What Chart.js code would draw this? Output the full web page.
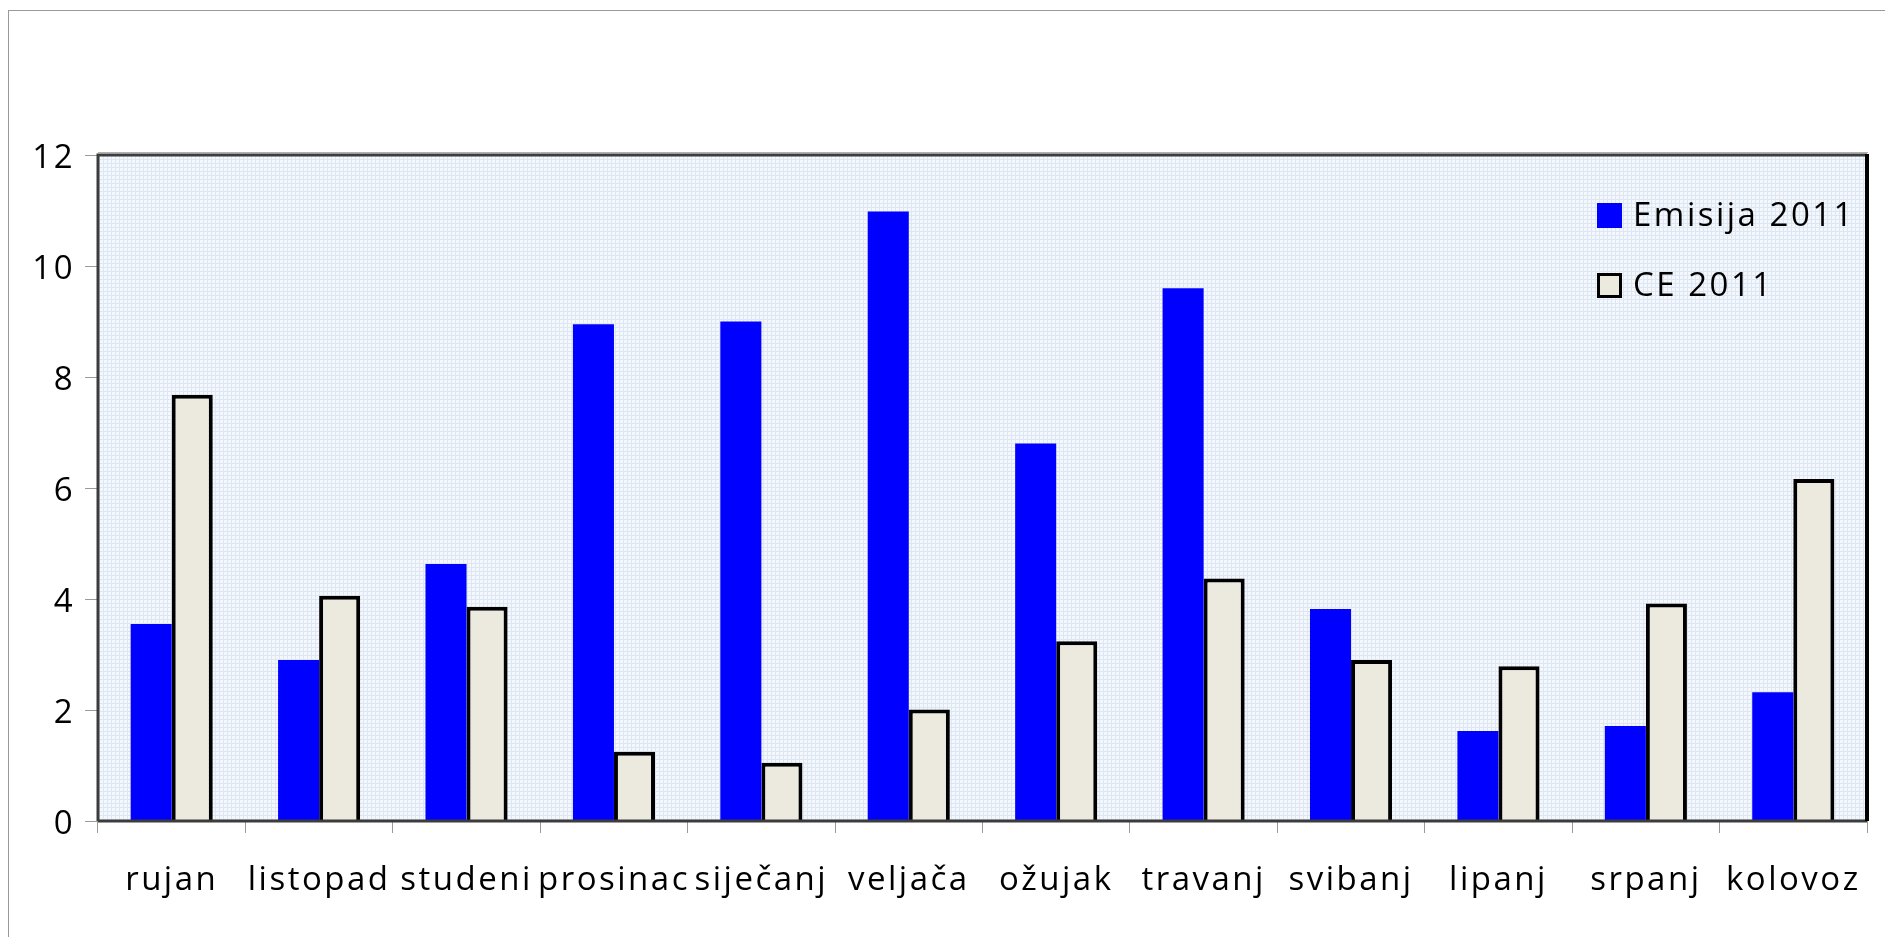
<!DOCTYPE html>
<html>
<head>
<meta charset="utf-8">
<script src="https://cdn.jsdelivr.net/npm/chart.js@4/dist/chart.umd.min.js"></script>
<style>
  html, body { margin: 0; padding: 0; background: #ffffff; overflow: hidden; }
  #frame { position: absolute; left: 8px; top: 10px; width: 3000px; height: 3000px; border-left: 1px solid #999; border-top: 1px solid #999; }
  #wrap { position: absolute; left: 0; top: 0; width: 1885px; height: 937px; }
</style>
</head>
<body>
<div id="frame"></div>
<div id="wrap"><canvas id="c" width="1885" height="937"></canvas></div>
<script>
const categories = ['rujan', 'listopad', 'studeni', 'prosinac', 'siječanj', 'veljača', 'ožujak', 'travanj', 'svibanj', 'lipanj', 'srpanj', 'kolovoz'];
const emisija2011 = [3.55, 2.9, 4.63, 8.95, 9.0, 10.98, 6.8, 9.6, 3.82, 1.62, 1.71, 2.32];
const ce2011 = [7.68, 4.06, 3.86, 1.25, 1.05, 2.01, 3.24, 4.37, 2.9, 2.79, 3.92, 6.16];
const seriesNames = ['Emisija 2011', 'CE 2011'];
const yTicks = { min: 0, max: 12, step: 2 };

const FONT = '"Open Sans", sans-serif';
const FSIZE = 33;
const LSP = '2.5px';

function makePattern(ctx) {
  const p = document.createElement('canvas');
  p.width = 4; p.height = 4;
  const g = p.getContext('2d');
  g.fillStyle = '#f4f7fc';
  g.fillRect(0, 0, 4, 4);
  g.fillStyle = '#dde6f3';
  g.fillRect(0, 3, 4, 1);
  g.fillRect(3, 0, 1, 4);
  return ctx.createPattern(p, 'repeat');
}

const framePlugin = {
  id: 'framePlugin',
  beforeDraw(chart) {
    chart.ctx.letterSpacing = LSP;
    const a = chart.chartArea, ctx = chart.ctx;
    ctx.save();
    ctx.fillStyle = makePattern(ctx);
    ctx.fillRect(a.left, a.top, a.right - a.left, a.bottom - a.top);
    ctx.restore();
  },
  afterDatasetsDraw(chart) {
    const a = chart.chartArea, ctx = chart.ctx;
    ctx.save();
    ctx.strokeStyle = '#b0b0b0';
    ctx.lineWidth = 1;
    ctx.beginPath();
    ctx.moveTo(a.left, a.top - 2.5); ctx.lineTo(a.right + 1, a.top - 2.5);
    ctx.stroke();
    ctx.strokeStyle = '#3c3c3c';
    ctx.lineWidth = 3;
    ctx.beginPath();
    ctx.moveTo(a.left, a.bottom); ctx.lineTo(a.left, a.top); ctx.lineTo(a.right, a.top);
    ctx.moveTo(a.left, a.bottom); ctx.lineTo(a.right, a.bottom);
    ctx.stroke();
    ctx.strokeStyle = '#000';
    ctx.lineWidth = 4;
    ctx.beginPath();
    ctx.moveTo(a.right, a.top - 1); ctx.lineTo(a.right, a.bottom);
    ctx.stroke();
    ctx.restore();
  },
  afterDraw(chart) {
    const a = chart.chartArea, ctx = chart.ctx;
    ctx.save();
    ctx.letterSpacing = LSP;
    ctx.font = FSIZE + 'px ' + FONT;
    ctx.textBaseline = 'middle';
    ctx.textAlign = 'left';
    const x0 = a.right - 270;
    chart.data.datasets.forEach((ds, i) => {
      const cy = a.top + 60 + i * 70;
      ctx.fillStyle = ds.backgroundColor;
      ctx.fillRect(x0, cy - 12, 25, 25);
      if (ds.borderWidth) {
        ctx.strokeStyle = ds.borderColor;
        ctx.lineWidth = 3;
        ctx.strokeRect(x0 + 1.5, cy - 10.5, 22, 22);
      }
      ctx.fillStyle = '#000';
      ctx.fillText(ds.label, x0 + 36, cy + 2);
    });
    ctx.restore();
  }
};

new Chart(document.getElementById('c'), {
  type: 'bar',
  data: {
    labels: categories,
    datasets: [
      { label: seriesNames[0], data: emisija2011, backgroundColor: '#0000ff', borderWidth: 0 },
      { label: seriesNames[1], data: ce2011, backgroundColor: '#ece9df', borderColor: '#000000', borderWidth: 4, borderSkipped: 'bottom' }
    ]
  },
  options: {
    responsive: false,
    animation: false,
    devicePixelRatio: 1,
    layout: { padding: { top: 155, right: 18, left: 0, bottom: 0 } },
    plugins: { legend: { display: false }, tooltip: { enabled: false } },
    datasets: { bar: { categoryPercentage: 0.557, barPercentage: 1.0 } },
    scales: {
      x: {
        offset: true,
        grid: { display: true, drawOnChartArea: false, drawTicks: true, tickLength: 12, color: '#9a9a9a', offset: true, lineWidth: 1 },
        border: { display: false },
        ticks: { autoSkip: false, maxRotation: 0, minRotation: 0, color: '#000', font: { family: FONT, size: FSIZE }, padding: 28 },
        afterFit(s) { s.height = 116; }
      },
      y: {
        min: yTicks.min, max: yTicks.max,
        grid: { display: true, drawOnChartArea: false, drawTicks: true, tickLength: 13, color: '#9a9a9a' },
        border: { display: false },
        ticks: { stepSize: yTicks.step, color: '#000', font: { family: FONT, size: FSIZE }, padding: 10, labelOffset: 4 },
        afterFit(s) { s.width = 98; }
      }
    }
  },
  plugins: [framePlugin]
});
</script>
</body>
</html>
